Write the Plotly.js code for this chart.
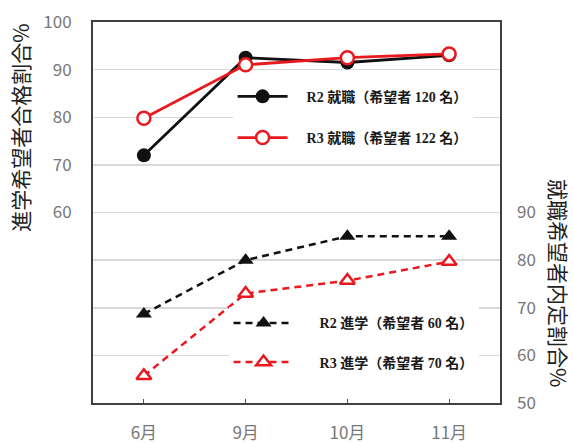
<!DOCTYPE html>
<html><head><meta charset="utf-8">
<script src="https://cdn.plot.ly/plotly-3.0.1.min.js"></script>
<style>html,body{margin:0;padding:0;background:#fff}#chart{width:573px;height:443px}</style>
</head><body><div id="chart"></div>
<script>
const months = ['6月', '9月', '10月', '11月'];
const r2Shushoku = [72, 92.5, 91.5, 93];
const r3Shushoku = [79.8, 91, 92.5, 93.3];
const r2Shingaku = [68.7, 80, 85, 85];
const r3Shingaku = [55.7, 73, 75.7, 79.7];
const seriesNames = ['R2 就職（希望者 120 名）', 'R3 就職（希望者 122 名）', 'R2 進学（希望者 60 名）', 'R3 進学（希望者 70 名）'];
const leftTickVals = [20, 30, 40, 50, 60, 70, 80, 90, 100];
const leftTickText = ['', '', '', '', '60', '70', '80', '90', '100'];
const rightTickVals = [50, 60, 70, 80, 90];
const leftTitle = '進学希望者合格割合%';
const rightTitle = '就職希望者内定割合%';

const BLACK = '#111111', RED = '#e8191f';
const nb = '\u00a0';
const pad3 = nb + nb + nb + nb;
const pad5 = nb + nb + nb + nb + nb + nb;
const traces = [
  {x: months, y: r2Shushoku, name: pad3 + seriesNames[0], type: 'scatter', mode: 'lines+markers', yaxis: 'y', legend: 'legend', legendgroup: 'a',
   line: {color: BLACK, width: 2.8}, marker: {symbol: 'circle', size: 14, color: BLACK}},
  {x: months, y: r3Shushoku, name: pad3 + seriesNames[1], type: 'scatter', mode: 'lines+markers', yaxis: 'y', legend: 'legend', legendgroup: 'b',
   line: {color: RED, width: 2.8}, marker: {symbol: 'circle', size: 13, color: '#ffffff', line: {color: RED, width: 2.5}}},
  {x: months, y: r2Shingaku, name: pad5 + seriesNames[2], type: 'scatter', mode: 'lines+markers', yaxis: 'y2', legend: 'legend2', legendgroup: 'c',
   line: {color: BLACK, width: 2.5, dash: '7px,5px'}, marker: {symbol: 'triangle-up', size: 14, color: BLACK}},
  {x: months, y: r3Shingaku, name: pad5 + seriesNames[3], type: 'scatter', mode: 'lines+markers', yaxis: 'y2', legend: 'legend2', legendgroup: 'd',
   line: {color: RED, width: 2.5, dash: '7px,5px'}, marker: {symbol: 'triangle-up', size: 13, color: '#ffffff', line: {color: RED, width: 2.5}}}
];

const tickFont = {family: "'Noto Sans CJK JP', 'Liberation Sans', sans-serif", size: 17, color: '#777777'};
const legFont = {family: "'Liberation Serif', 'Noto Sans CJK JP', serif", size: 14, color: '#1a1a1a', weight: 'bold'};

const layout = {
  width: 573, height: 443,
  margin: {l: 93, r: 73, t: 22, b: 40},
  paper_bgcolor: '#ffffff', plot_bgcolor: '#ffffff',
  showlegend: true,
  xaxis: {type: 'category', range: [-0.5, 3.5], showgrid: false, showline: true, linecolor: '#404040', linewidth: 2, mirror: true,
    ticks: 'inside', ticklen: 4, tickcolor: '#555', tickfont: tickFont, ticklabelstandoff: 14, zeroline: false, fixedrange: true},
  yaxis: {range: [20, 100], tickvals: leftTickVals, ticktext: leftTickText, showgrid: true, gridcolor: '#d9d9d9', gridwidth: 1.5,
    showline: true, linecolor: '#404040', linewidth: 2, mirror: true, ticks: '', tickfont: tickFont, ticklabelstandoff: 16, zeroline: false},
  yaxis2: {overlaying: 'y', side: 'right', range: [50, 130], tickvals: rightTickVals, showgrid: false, showline: false, ticks: '',
    tickfont: tickFont, ticklabelstandoff: 16, zeroline: false},
  legend: {x: 0.343, y: 0.75, xanchor: 'left', yanchor: 'middle', bgcolor: '#ffffff', itemwidth: 50, tracegroupgap: 20, font: legFont, borderwidth: 0},
  legend2: {x: 0.333, y: 0.158, xanchor: 'left', yanchor: 'middle', bgcolor: '#ffffff', itemwidth: 60, tracegroupgap: 18, font: legFont, borderwidth: 0},
  annotations: [
    {text: leftTitle, xref: 'paper', yref: 'paper', x: -0.18, y: 0.722, textangle: -90, showarrow: false, xanchor: 'center', yanchor: 'middle',
     font: {family: "'Noto Sans CJK JP', sans-serif", size: 21, color: '#222'}},
    {text: rightTitle, xref: 'paper', yref: 'paper', x: 1.145, y: 0.315, textangle: 90, showarrow: false, xanchor: 'center', yanchor: 'middle',
     font: {family: "'Noto Sans CJK JP', sans-serif", size: 21, color: '#222'}}
  ]
};
Plotly.newPlot('chart', traces, layout, {displayModeBar: false, staticPlot: true});
</script></body></html>
